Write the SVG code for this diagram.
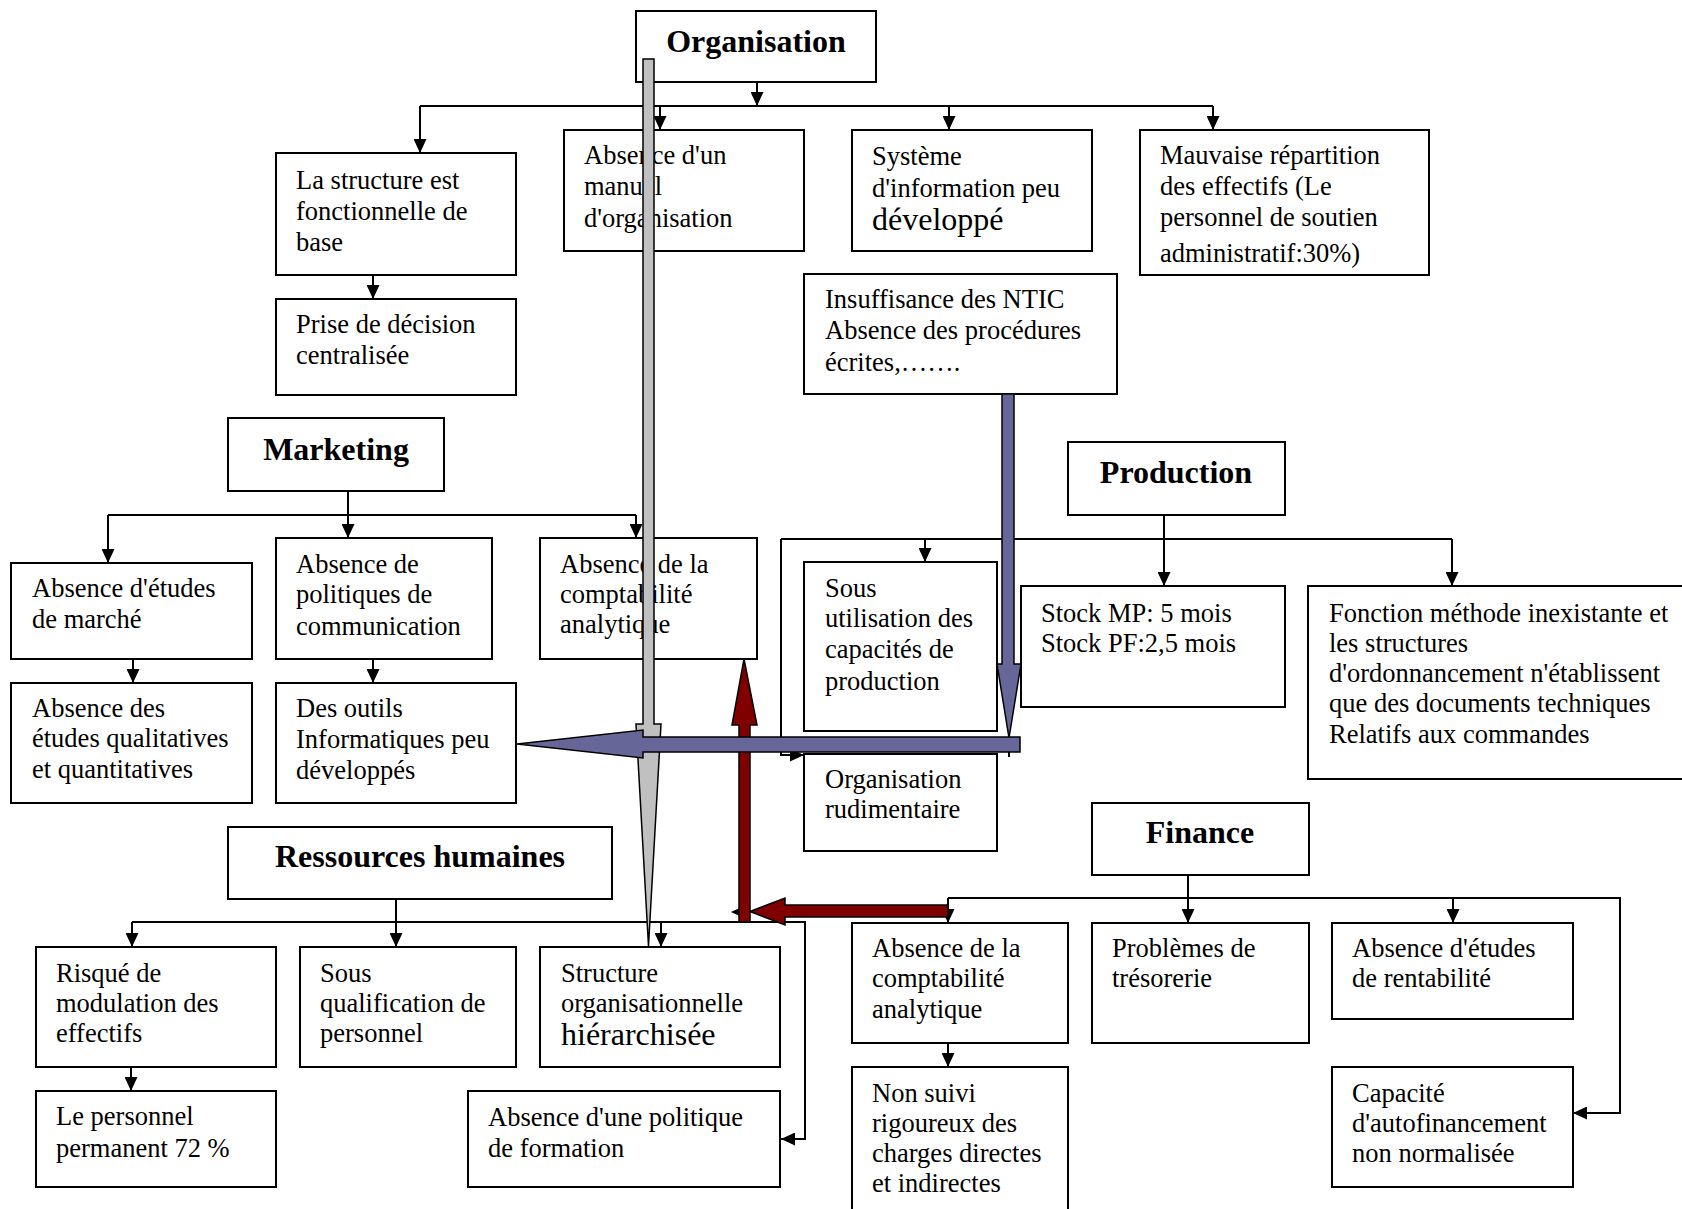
<svg xmlns="http://www.w3.org/2000/svg" width="1682" height="1209" viewBox="0 0 1682 1209">
  <defs>
    <style>
      .box { fill: #ffffff; stroke: #000000; stroke-width: 2; }
      .t { font-family: "Liberation Serif", "Times New Roman", serif; font-size: 26.5px; fill: #000000; }
      .big { font-size: 32px; }
      .h { font-family: "Liberation Serif", "Times New Roman", serif; font-size: 32px; font-weight: bold; text-anchor: middle; fill: #000000; }
      .ln { fill: none; stroke: #000000; stroke-width: 2; }
      .arr { marker-end: url(#head); }
      .grey { fill: #c0c0c0; stroke: #000000; stroke-width: 1.5; }
      .blue { fill: #666699; stroke: #000000; stroke-width: 1.5; }
      .red { fill: #800000; stroke: #000000; stroke-width: 1.5; }
    </style>
    <marker id="head" markerUnits="userSpaceOnUse" markerWidth="14" markerHeight="13" refX="14" refY="6.5" orient="auto">
      <path d="M0,0 L14,6.5 L0,13 Z" fill="#000000"/>
    </marker>
  </defs>
  <rect width="1682" height="1209" fill="#ffffff"/>

  <!-- Organisation -->
  <g id="organisation">
    <rect class="box" x="636" y="11" width="240" height="71"/>
    <text class="h" x="756" y="52">Organisation</text>
  </g>
  <g id="org-structure">
    <rect class="box" x="276" y="153" width="240" height="122"/>
    <text class="t"><tspan x="296" y="189">La structure est</tspan><tspan x="296" y="220">fonctionnelle de</tspan><tspan x="296" y="251">base</tspan></text>
  </g>
  <g id="org-decision">
    <rect class="box" x="276" y="299" width="240" height="96"/>
    <text class="t"><tspan x="296" y="333">Prise de décision</tspan><tspan x="296" y="364">centralisée</tspan></text>
  </g>
  <g id="org-manuel">
    <rect class="box" x="564" y="130" width="240" height="121"/>
    <text class="t"><tspan x="584" y="164">Absence d'un</tspan><tspan x="584" y="195">manuel</tspan><tspan x="584" y="227">d'organisation</tspan></text>
  </g>
  <g id="org-si">
    <rect class="box" x="852" y="130" width="240" height="121"/>
    <text class="t"><tspan x="872" y="165">Système</tspan><tspan x="872" y="197">d'information peu</tspan><tspan class="big" x="872" y="230">développé</tspan></text>
  </g>
  <g id="org-effectifs">
    <rect class="box" x="1140" y="130" width="289" height="145"/>
    <text class="t"><tspan x="1160" y="164">Mauvaise répartition</tspan><tspan x="1160" y="195">des effectifs (Le</tspan><tspan x="1160" y="226">personnel de soutien</tspan><tspan x="1160" y="262">administratif:30%)</tspan></text>
  </g>
  <g id="org-ntic">
    <rect class="box" x="804" y="274" width="313" height="120"/>
    <text class="t"><tspan x="825" y="308">Insuffisance des NTIC</tspan><tspan x="825" y="339">Absence des procédures</tspan><tspan x="825" y="371">écrites,…….</tspan></text>
  </g>

  <!-- Marketing -->
  <g id="marketing">
    <rect class="box" x="228" y="418" width="216" height="73"/>
    <text class="h" x="336" y="460">Marketing</text>
  </g>
  <g id="mkt-marche">
    <rect class="box" x="11" y="563" width="241" height="96"/>
    <text class="t"><tspan x="32" y="597">Absence d'études</tspan><tspan x="32" y="628">de marché</tspan></text>
  </g>
  <g id="mkt-qualitatives">
    <rect class="box" x="11" y="683" width="241" height="120"/>
    <text class="t"><tspan x="32" y="717">Absence des</tspan><tspan x="32" y="747">études qualitatives</tspan><tspan x="32" y="778">et quantitatives</tspan></text>
  </g>
  <g id="mkt-communication">
    <rect class="box" x="276" y="538" width="216" height="121"/>
    <text class="t"><tspan x="296" y="573">Absence de</tspan><tspan x="296" y="603">politiques de</tspan><tspan x="296" y="635">communication</tspan></text>
  </g>
  <g id="mkt-outils">
    <rect class="box" x="276" y="683" width="240" height="120"/>
    <text class="t"><tspan x="296" y="717">Des outils</tspan><tspan x="296" y="748">Informatiques peu</tspan><tspan x="296" y="779">développés</tspan></text>
  </g>
  <g id="mkt-comptabilite">
    <rect class="box" x="540" y="538" width="217" height="121"/>
    <text class="t"><tspan x="560" y="573">Absence de la</tspan><tspan x="560" y="603">comptabilité</tspan><tspan x="560" y="633">analytique</tspan></text>
  </g>

  <!-- Production -->
  <g id="production">
    <rect class="box" x="1068" y="442" width="217" height="73"/>
    <text class="h" x="1176" y="483">Production</text>
  </g>
  <g id="prod-capacites">
    <rect class="box" x="804" y="562" width="193" height="169"/>
    <text class="t"><tspan x="825" y="597">Sous</tspan><tspan x="825" y="627">utilisation des</tspan><tspan x="825" y="658">capacités de</tspan><tspan x="825" y="690">production</tspan></text>
  </g>
  <g id="prod-stock">
    <rect class="box" x="1021" y="586" width="264" height="121"/>
    <text class="t"><tspan x="1041" y="622">Stock MP: 5 mois</tspan><tspan x="1041" y="652">Stock PF:2,5 mois</tspan></text>
  </g>
  <g id="prod-methode">
    <rect class="box" x="1308" y="586" width="380" height="193"/>
    <text class="t"><tspan x="1329" y="622">Fonction méthode inexistante et</tspan><tspan x="1329" y="652">les structures</tspan><tspan x="1329" y="682">d'ordonnancement n'établissent</tspan><tspan x="1329" y="712">que des documents techniques</tspan><tspan x="1329" y="743">Relatifs aux commandes</tspan></text>
  </g>
  <g id="prod-rudimentaire">
    <rect class="box" x="804" y="754" width="193" height="97"/>
    <text class="t"><tspan x="825" y="788">Organisation</tspan><tspan x="825" y="818">rudimentaire</tspan></text>
  </g>

  <!-- Ressources humaines -->
  <g id="rh">
    <rect class="box" x="228" y="827" width="384" height="72"/>
    <text class="h" x="420" y="867">Ressources humaines</text>
  </g>
  <g id="rh-modulation">
    <rect class="box" x="36" y="947" width="240" height="120"/>
    <text class="t"><tspan x="56" y="982">Risqué de</tspan><tspan x="56" y="1012">modulation des</tspan><tspan x="56" y="1042">effectifs</tspan></text>
  </g>
  <g id="rh-qualification">
    <rect class="box" x="300" y="947" width="216" height="120"/>
    <text class="t"><tspan x="320" y="982">Sous</tspan><tspan x="320" y="1012">qualification de</tspan><tspan x="320" y="1042">personnel</tspan></text>
  </g>
  <g id="rh-structure">
    <rect class="box" x="540" y="947" width="240" height="120"/>
    <text class="t"><tspan x="561" y="982">Structure</tspan><tspan x="561" y="1012">organisationnelle</tspan><tspan class="big" x="561" y="1045">hiérarchisée</tspan></text>
  </g>
  <g id="rh-permanent">
    <rect class="box" x="36" y="1091" width="240" height="96"/>
    <text class="t"><tspan x="56" y="1125">Le personnel</tspan><tspan x="56" y="1157">permanent 72 %</tspan></text>
  </g>
  <g id="rh-formation">
    <rect class="box" x="468" y="1091" width="312" height="96"/>
    <text class="t"><tspan x="488" y="1126">Absence d'une politique</tspan><tspan x="488" y="1157">de formation</tspan></text>
  </g>

  <!-- Finance -->
  <g id="finance">
    <rect class="box" x="1092" y="803" width="217" height="72"/>
    <text class="h" x="1200" y="843">Finance</text>
  </g>
  <g id="fin-comptabilite">
    <rect class="box" x="852" y="923" width="216" height="120"/>
    <text class="t"><tspan x="872" y="957">Absence de la</tspan><tspan x="872" y="987">comptabilité</tspan><tspan x="872" y="1018">analytique</tspan></text>
  </g>
  <g id="fin-tresorerie">
    <rect class="box" x="1092" y="923" width="217" height="120"/>
    <text class="t"><tspan x="1112" y="957">Problèmes de</tspan><tspan x="1112" y="987">trésorerie</tspan></text>
  </g>
  <g id="fin-rentabilite">
    <rect class="box" x="1332" y="923" width="241" height="96"/>
    <text class="t"><tspan x="1352" y="957">Absence d'études</tspan><tspan x="1352" y="987">de rentabilité</tspan></text>
  </g>
  <g id="fin-charges">
    <rect class="box" x="852" y="1067" width="216" height="150"/>
    <text class="t"><tspan x="872" y="1102">Non suivi</tspan><tspan x="872" y="1132">rigoureux des</tspan><tspan x="872" y="1162">charges directes</tspan><tspan x="872" y="1192">et indirectes</tspan></text>
  </g>
  <g id="fin-autofinancement">
    <rect class="box" x="1332" y="1067" width="241" height="120"/>
    <text class="t"><tspan x="1352" y="1102">Capacité</tspan><tspan x="1352" y="1132">d'autofinancement</tspan><tspan x="1352" y="1162">non normalisée</tspan></text>
  </g>

  <!-- Connectors -->
  <g id="connectors">
    <!-- Organisation tree -->
    <path class="ln arr" d="M757,82 V106"/>
    <path class="ln" d="M420,106 H1213"/>
    <path class="ln arr" d="M420,106 V153"/>
    <path class="ln arr" d="M660,106 V130"/>
    <path class="ln arr" d="M949,106 V130"/>
    <path class="ln arr" d="M1213,106 V130"/>
    <path class="ln arr" d="M373,275 V299"/>
    <!-- Marketing tree -->
    <path class="ln arr" d="M348,491 V538"/>
    <path class="ln" d="M108,515 H636"/>
    <path class="ln arr" d="M108,515 V563"/>
    <path class="ln arr" d="M636,515 V538"/>
    <path class="ln arr" d="M133,659 V683"/>
    <path class="ln arr" d="M373,659 V683"/>
    <!-- Production tree -->
    <path class="ln arr" d="M1164,515 V586"/>
    <path class="ln" d="M781,539 H1452"/>
    <path class="ln arr" d="M925,539 V562"/>
    <path class="ln arr" d="M1452,539 V586"/>
    <path class="ln arr" d="M781,539 V755 H804"/>
    <path class="ln" d="M1009,752 V757"/>
    <!-- Ressources humaines tree -->
    <path class="ln arr" d="M396,899 V947"/>
    <path class="ln arr" d="M132,922 H805 V1139 H781"/>
    <path class="ln arr" d="M132,922 V947"/>
    <path class="ln arr" d="M661,922 V947"/>
    <path class="ln arr" d="M131,1067 V1091"/>
    <!-- Finance tree -->
    <path class="ln arr" d="M1188,875 V923"/>
    <path class="ln arr" d="M948,898 H1620 V1113 H1573"/>
    <path class="ln arr" d="M948,898 V923"/>
    <path class="ln arr" d="M1453,898 V923"/>
    <path class="ln arr" d="M948,1043 V1067"/>
    <path d="M731,912 L745,905.5 L745,918.5 Z" fill="#000000"/>

    <!-- block arrows -->
    <path class="grey" d="M643,59 H654 V724 H661 L648.5,946 L636,724 H643 Z"/>
    <path class="red" d="M744,659 L757,725 H750 V922 H739 V725 H732 Z"/>
    <path class="red" d="M750,911.5 L785,898 V905 H948 V917 H785 V925 Z"/>
    <path class="blue" d="M1002,394 H1014 V664 H1021 L1009,738 L997,664 H1002 Z"/>
    <path class="blue" d="M517,744 L643,730 V737 H1020 V752 H643 V758 Z"/>
  </g>
</svg>
